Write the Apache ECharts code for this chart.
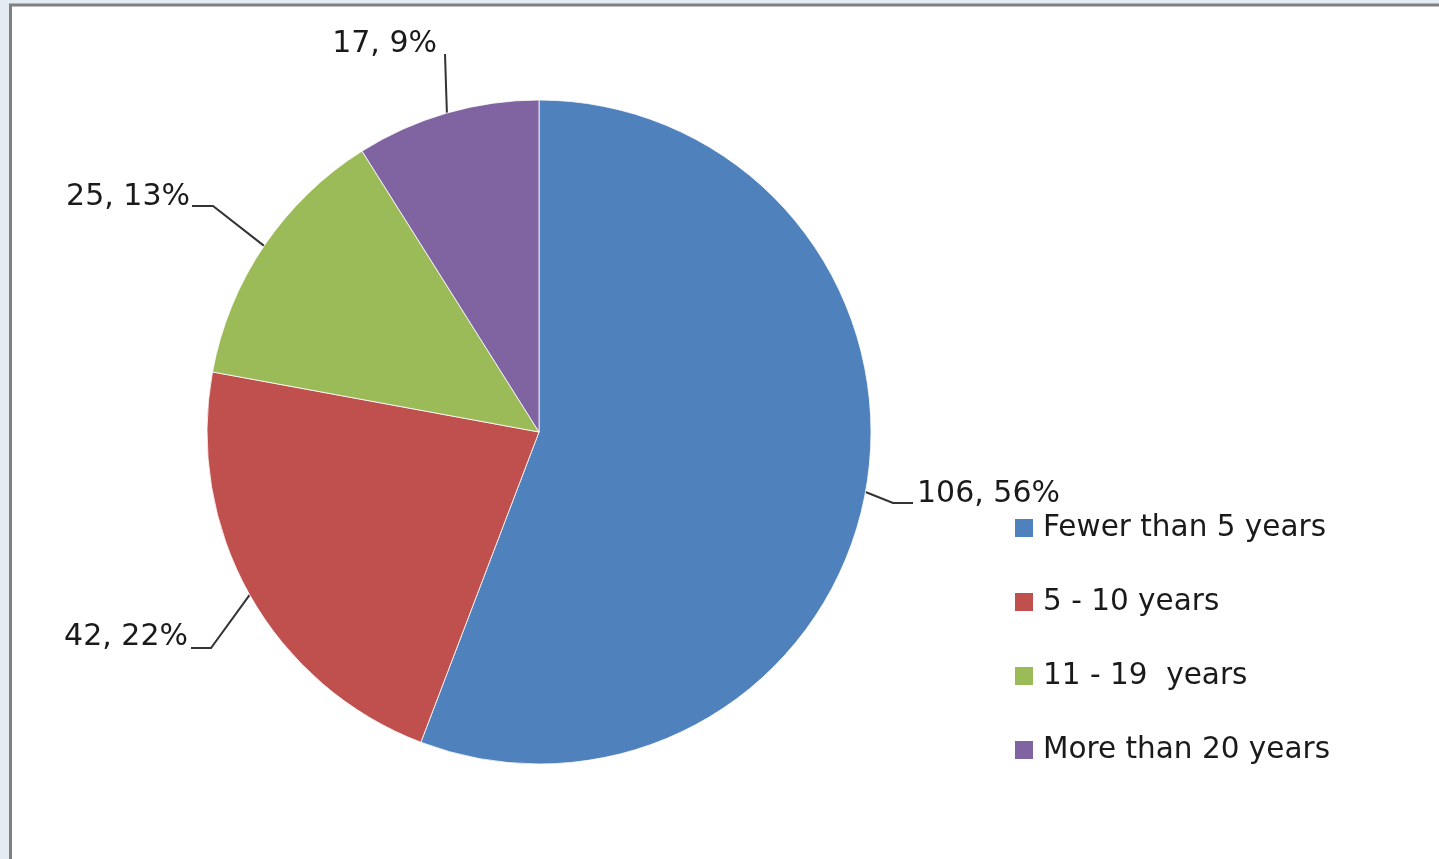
<!DOCTYPE html>
<html>
<head>
<meta charset="utf-8">
<script src="https://cdn.jsdelivr.net/npm/echarts@6/dist/echarts.min.js"></script>
<style>
  html, body { margin: 0; padding: 0; background: #e2ecf2; }
  #chart { width: 1439px; height: 859px; }
</style>
</head>
<body>
<div id="chart"></div>
<script>
// ---- data ----
const categories = ['Fewer than 5 years', '5 - 10 years', '11 - 19  years', 'More than 20 years'];
const counts = [106, 42, 25, 17];
const colors = ['#4f81bd', '#c0504d', '#9bbb59', '#8064a2'];

// ---- label layout (positions only) ----
const labelElbows = [[893, 503], [211, 648], [213, 206], [445, 54]];
const labelEnds   = [[913, 503], [191, 648], [192, 206], [445, 54]];
const labelText   = [[917, 494, 'left'], [188, 637, 'right'], [190, 197, 'right'], [437, 44, 'right']];

const FONT = '"DejaVu Sans", Verdana, sans-serif';

const chart = echarts.init(document.getElementById('chart'));
chart.setOption({
  backgroundColor: '#e2ecf2',
  animation: false,
  graphic: [{
    type: 'rect',
    z: -10,
    shape: { x: 10.5, y: 5, width: 1600, height: 1000 },
    style: { fill: '#ffffff', stroke: '#808080', lineWidth: 3 }
  }],
  legend: {
    orient: 'vertical',
    left: 1013,
    top: 513,
    padding: 0,
    itemWidth: 20,
    itemHeight: 20,
    itemGap: 44,
    icon: 'rect',
    data: categories,
    textStyle: { fontFamily: FONT, fontSize: 29.5, color: '#1a1a1a', lineHeight: 30, padding: [0, 0, 0, 4] }
  },
  series: [{
    type: 'pie',
    center: [539, 432],
    radius: 332,
    startAngle: 90,
    clockwise: true,
    avoidLabelOverlap: false,
    itemStyle: { borderColor: '#ffffff', borderWidth: 0.8 },
    label: {
      show: true,
      position: 'outside',
      fontFamily: FONT,
      fontSize: 30,
      color: '#1a1a1a',
      formatter: function (p) { return p.value + ', ' + Math.round(p.percent) + '%'; }
    },
    labelLine: { show: true, length: 30, length2: 20, lineStyle: { color: '#333333', width: 2 } },
    labelLayout: function (params) {
      const i = params.dataIndex;
      const p0 = params.labelLinePoints ? params.labelLinePoints[0] : labelElbows[i];
      return {
        x: labelText[i][0],
        y: labelText[i][1],
        align: labelText[i][2],
        verticalAlign: 'middle',
        labelLinePoints: [p0, labelElbows[i], labelEnds[i]]
      };
    },
    data: categories.map(function (c, i) {
      return { name: c, value: counts[i], itemStyle: { color: colors[i] } };
    })
  }]
});
</script>
</body>
</html>
